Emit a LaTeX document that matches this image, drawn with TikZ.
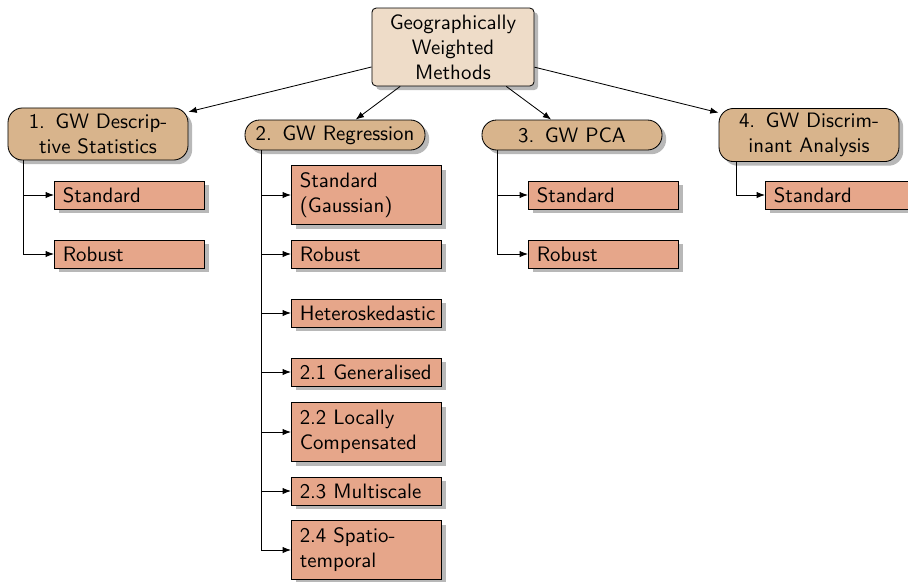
\documentclass[tikz,border=0pt]{standalone}
\usetikzlibrary{shadows,arrows.meta}
\definecolor{rootfill}{HTML}{EEDCC8}
\definecolor{catfill}{HTML}{D8B48C}
\definecolor{leaffill}{HTML}{E6A68A}
\begin{document}
\begin{tikzpicture}[x=0.48pt,y=-0.48pt, font=\sffamily,
 shadowed/.style={drop shadow={shadow xshift=2pt,shadow yshift=-2pt,fill=black!28,opacity=1}},
 rootbox/.style={draw, fill=rootfill, rounded corners=2pt, minimum width=77.8pt, minimum height=37.4pt, align=center, inner sep=2pt, shadowed},
 catbox/.style={draw, fill=catfill, rounded corners=7pt, minimum width=86.4pt, align=center, inner sep=2pt, shadowed},
 leafbox/.style={draw, fill=leaffill, minimum height=13.44pt, align=left, text width=64pt, inner xsep=4pt, inner ysep=2pt, shadowed, anchor=west},
 leaftwo/.style={leafbox, minimum height=28.3pt},
 conn/.style={-{Latex[length=4pt,width=3pt]}}
]
\useasboundingbox (0,0) rectangle (908,581);
\node[rootbox] (root) at (453,47) {Geographically\\Weighted\\Methods};
\node[catbox, minimum height=25pt] (c1) at (98,134) {1.\enspace GW Descrip-\\tive Statistics};
\node[catbox, minimum height=14.4pt] (c2) at (335,135) {2.\enspace GW Regression};
\node[catbox, minimum height=14.4pt] (c3) at (572,135) {3.\enspace GW PCA};
\node[catbox, minimum height=25.5pt] (c4) at (809,135) {4.\enspace GW Discrim-\\inant Analysis};

\node[leafbox] (l11) at (54,195) {Standard};
\node[leafbox] (l12) at (54,254) {Robust};

\node[leaftwo] (l21) at (291,195) {Standard\\(Gaussian)};
\node[leafbox] (l22) at (291,254) {Robust};
\node[leafbox] (l23) at (291,313) {Heteroskedastic};
\node[leafbox] (l24) at (291,372) {2.1 Generalised};
\node[leaftwo] (l25) at (291,432) {2.2 Locally\\Compensated};
\node[leafbox] (l26) at (291,491) {2.3 Multiscale};
\node[leaftwo] (l27) at (291,550) {2.4 Spatio-\\temporal};

\node[leafbox] (l31) at (528,195) {Standard};
\node[leafbox] (l32) at (528,254) {Robust};

\node[leafbox] (l41) at (765,195) {Standard};

\foreach \c in {c1,c2,c3,c4} \draw[conn] (root) -- (\c);

\foreach \l in {l11,l12} \draw[conn] ([xshift=7.5pt]c1.south west) |- (\l.west);
\foreach \l in {l21,l22,l23,l24,l25,l26,l27} \draw[conn] ([xshift=8pt]c2.south west) |- (\l.west);
\foreach \l in {l31,l32} \draw[conn] ([xshift=7.5pt]c3.south west) |- (\l.west);
\draw[conn] ([xshift=8.5pt]c4.south west) |- (l41.west);
\end{tikzpicture}
\end{document}
